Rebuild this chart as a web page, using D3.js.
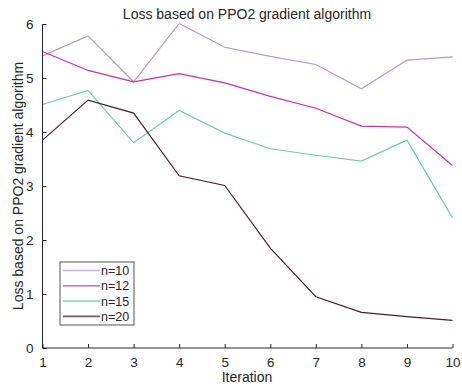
<!DOCTYPE html>
<html><head><meta charset="utf-8">
<script src="https://cdn.jsdelivr.net/npm/d3@7"></script>
<style>body{margin:0;background:#fff}svg{display:block;font-family:"Liberation Sans",Arial,sans-serif}</style>
</head><body><svg id="c" width="462" height="387"></svg>
<script>
const iterations = [1,2,3,4,5,6,7,8,9,10];
const seriesNames = ["n=10","n=12","n=15","n=20"];
const n10 = [5.41,5.78,4.93,6.01,5.57,5.40,5.25,4.80,5.33,5.39];
const n12 = [5.49,5.14,4.93,5.08,4.91,4.66,4.44,4.11,4.09,3.38];
const n15 = [4.51,4.77,3.80,4.40,3.98,3.69,3.57,3.46,3.85,2.41];
const n20 = [3.85,4.59,4.35,3.19,3.01,1.85,0.95,0.66,0.58,0.51];
const colors = ["#b598d6","#d42e9c","#6ccfa9","#4b1e2b"];
const yTicks = [0,1,2,3,4,5,6];

const svg = d3.select("#c");
const L=42.5, R=452.5, T=24, B=348;
const x = d3.scaleLinear().domain([1,10]).range([L,R]);
const y = d3.scaleLinear().domain([0,6]).range([B,T]);
const data = [n10,n12,n15,n20];

const line = d3.line().x((d,i)=>x(iterations[i])).y(d=>y(d));
data.forEach((s,k)=>{
  svg.append("path").attr("d",line(s)).attr("fill","none").attr("stroke",colors[k]).attr("stroke-width",1.2);
});

const xa = svg.append("g").attr("transform",`translate(0,${B})`)
  .call(d3.axisBottom(x).tickValues(iterations).tickSize(-4).tickPadding(9).tickFormat(d3.format("d")));
const ya = svg.append("g").attr("transform",`translate(${L},0)`)
  .call(d3.axisLeft(y).tickValues(yTicks).tickSize(-4).tickPadding(9).tickFormat(d3.format("d")));
[xa,ya].forEach(a=>{
  a.select(".domain").attr("stroke","#262626");
  a.selectAll(".tick line").attr("stroke","#262626");
  a.selectAll("text").attr("font-size",13.5).attr("fill","#262626").attr("font-family","Liberation Sans, Arial, sans-serif");
});
ya.select(".domain").attr("d",`M0,${B}V${T}`);
xa.select(".domain").attr("d",`M${L},0H${R}`);

svg.append("text").attr("x",247).attr("y",19).attr("text-anchor","middle")
  .attr("font-size",14).attr("fill","#262626").text("Loss based on PPO2 gradient algorithm");
svg.append("text").attr("x",247).attr("y",382).attr("text-anchor","middle")
  .attr("font-size",14).attr("fill","#262626").text("Iteration");
svg.append("text").attr("transform",`translate(23,${(T+B)/2}) rotate(-90)`).attr("text-anchor","middle")
  .attr("font-size",14).attr("fill","#262626").text("Loss based on PPO2 gradient algorithm");

const lg = svg.append("g");
lg.append("rect").attr("x",60).attr("y",262).attr("width",74).attr("height",63)
  .attr("fill","#fff").attr("stroke","#555").attr("stroke-width",1);
seriesNames.forEach((n,k)=>{
  const yy = 270.5 + k*15.3;
  lg.append("line").attr("x1",63).attr("x2",100).attr("y1",yy).attr("y2",yy)
    .attr("stroke",colors[k]).attr("stroke-width",1.6).attr("opacity",0.75);
  lg.append("text").attr("x",101).attr("y",yy+4.5).attr("font-size",12.5).attr("fill","#262626").text(n);
});
</script></body></html>
